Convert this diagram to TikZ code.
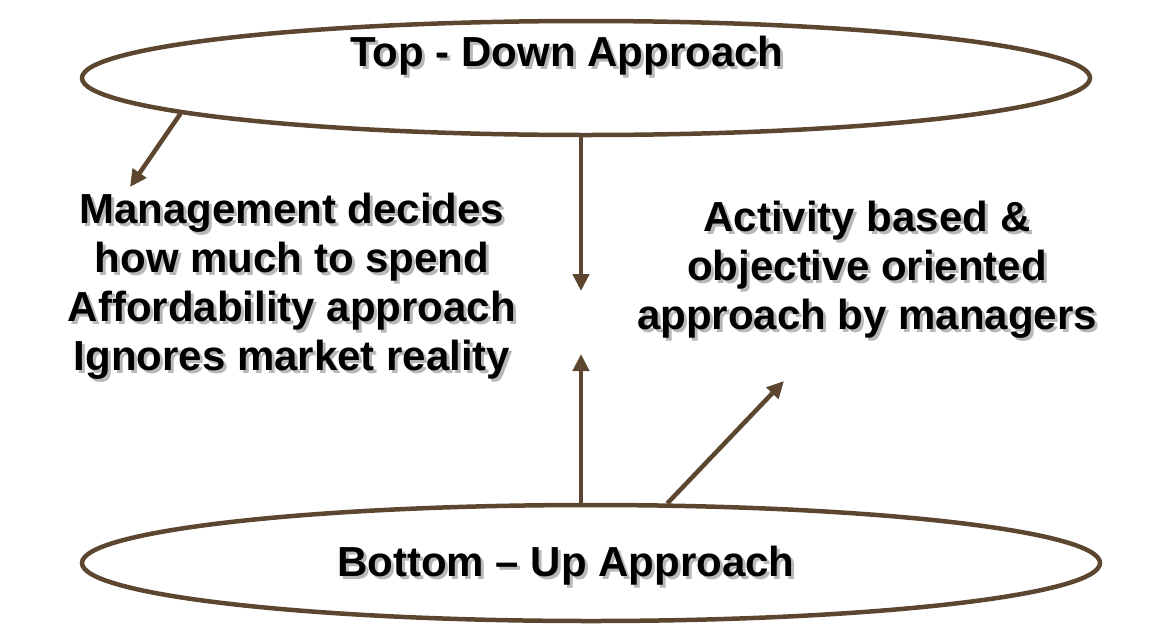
\documentclass[tikz,border=0pt]{standalone}
\usepackage{fontspec}
\setmainfont{Liberation Sans}
\usepackage{tikz}
\usetikzlibrary{arrows.meta,shapes.geometric,positioning}
\definecolor{approachbrown}{RGB}{92,70,48}
\tikzset{
  approach/.style={draw=approachbrown, line width=4.5pt, ellipse, inner sep=0pt},
  flow/.style={draw=approachbrown, line width=4.5pt, -{Triangle[length=17pt,width=16pt]}},
  bigtext/.style={font=\fontsize{42}{49}\selectfont\bfseries, align=center, inner sep=0pt}
}
% text with a grey drop shadow behind it
\newcommand\dropnode[3]{%
  \node[#1, text=black!28, xshift=3pt, yshift=-3pt] {#3};
  \node[#1] (#2) {#3};}

\begin{document}
\begin{tikzpicture}[x=1pt, y=-1pt]
        \useasboundingbox (0,0) rectangle (1161,627);

        % the two approaches
        \node[approach, minimum width=1008pt, minimum height=114pt] (top) at (586,78) {};
        \node[approach, minimum width=1018pt, minimum height=116pt] (bottom) at (591,563) {};

        \dropnode{bigtext, anchor=base, at={(567,66)}}{toptitle}{Top - Down Approach}
        \dropnode{bigtext, anchor=base, at={(566,576)}}{bottomtitle}{Bottom -- Up Approach}

        % descriptions
        \dropnode{bigtext, at={(292,286)}}{leftdesc}{Management decides\\how much to spend\\Affordability approach\\Ignores market reality}
        \dropnode{bigtext, at={(867,270)}}{rightdesc}{Activity based \&\\objective oriented\\approach by managers}

        % arrow ends
        \coordinate (downtip) at (581,291);
        \coordinate (uptip) at (581,354);
        \coordinate (lefttip) at (130,187);
        \coordinate (righttip) at (784,381);

        \draw[flow] (top.south -| downtip) -- (downtip);
        \draw[flow] (bottom.north -| uptip) -- (uptip);
        \draw[flow] (top.185) -- (lefttip);
        \draw[flow] (bottom.38) -- (righttip);
    \end{tikzpicture}
\end{document}
